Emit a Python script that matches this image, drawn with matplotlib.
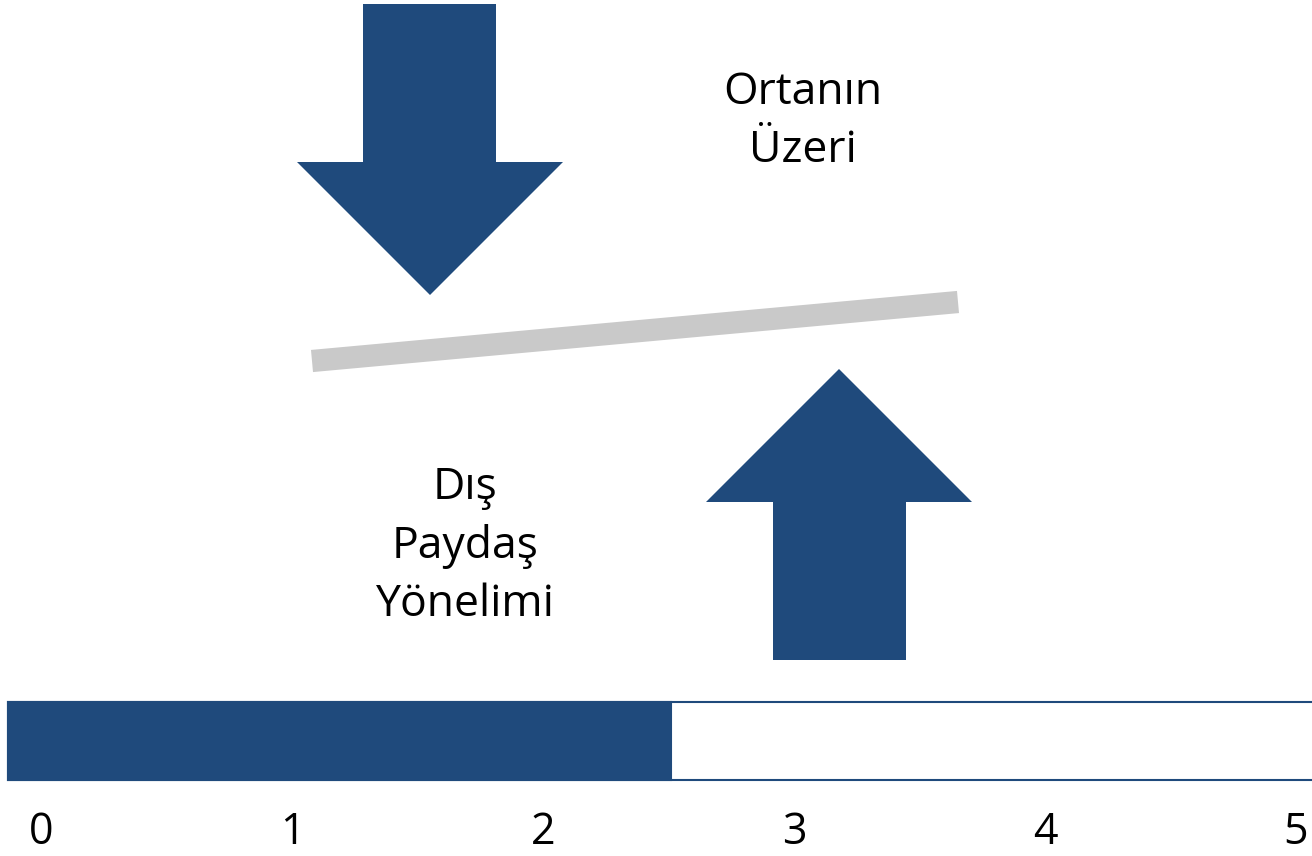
"""Gauge chart: external stakeholder orientation score on a 0-5 scale."""

import matplotlib

matplotlib.use("Agg")
import matplotlib.pyplot as plt  # noqa: E402
from matplotlib.patches import Polygon  # noqa: E402

# data
scale_ticks = [0, 1, 2, 3, 4, 5]
score = 2.51
label_main = "Dış\nPaydaş\nYönelimi"
label_level = "Ortanın\nÜzeri"

BLUE = "#1F4A7C"
GREY = "#C9C9C9"
W, H = 1312, 856
PX_PER_UNIT = 251.0  # gauge scale: pixels per score unit
X0_PX = 41.0  # pixel position of score 0
TRACK_LEFT = (8 - X0_PX) / PX_PER_UNIT

plt.rcParams["font.family"] = ["Open Sans", "DejaVu Sans"]

fig = plt.figure(figsize=(W / 100, H / 100), dpi=100)

# decoration layer in pixel coordinates
deco = fig.add_axes([0, 0, 1, 1])
deco.set_xlim(0, W)
deco.set_ylim(H, 0)
deco.axis("off")

down_arrow = [(363, 4), (496, 4), (496, 162), (563, 162), (430, 295),
              (297, 162), (363, 162)]
up_arrow = [(773, 660), (906, 660), (906, 502), (972, 502), (839, 369),
            (706, 502), (773, 502)]
for pts in (down_arrow, up_arrow):
    deco.add_patch(Polygon(pts, closed=True, facecolor=BLUE, edgecolor="none"))

deco.plot([312, 958], [361, 302], color=GREY, lw=16, solid_capstyle="butt")

deco.text(803, 122, label_level, ha="center", va="center", fontsize=32,
          linespacing=1.4, color="black")
deco.text(465, 546, label_main, ha="center", va="center", fontsize=32,
          linespacing=1.4, color="black")

# gauge layer: x in score units, y in pixels
gauge = fig.add_axes([0, 0, 1, 1])
gauge.set_xlim(-X0_PX / PX_PER_UNIT, (W - X0_PX) / PX_PER_UNIT)
gauge.set_ylim(H, 0)
gauge.axis("off")
gauge.patch.set_alpha(0)

track_right = scale_ticks[-1] + 0.3
gauge.barh(741, track_right - TRACK_LEFT, left=TRACK_LEFT, height=78,
           facecolor="white", edgecolor=BLUE, lw=1.5)
gauge.barh(741, score - TRACK_LEFT, left=TRACK_LEFT, height=78,
           facecolor=BLUE, edgecolor=BLUE, lw=1.5)
for t in scale_ticks:
    gauge.text(t, 833, str(t), ha="center", va="center", fontsize=31, color="black")

fig.savefig("out.png", dpi=100)
